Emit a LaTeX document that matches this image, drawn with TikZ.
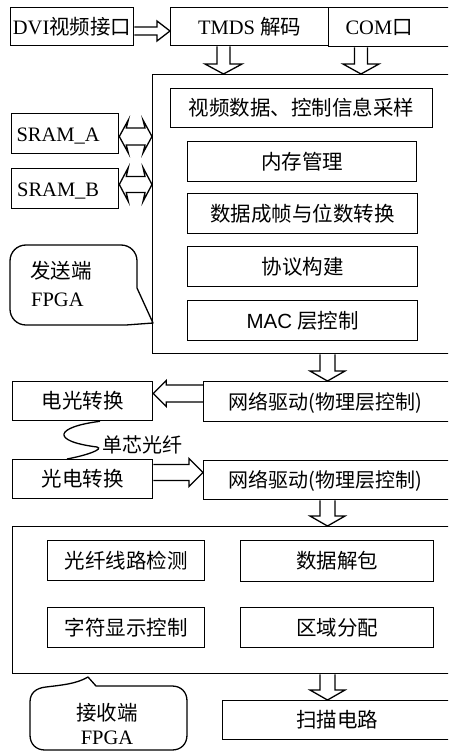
\documentclass[tikz,border=0pt]{standalone}
\usepackage{fontspec}
\setmainfont{Liberation Serif}
\newfontfamily\cjk{Noto Sans CJK SC}
\newfontfamily\sansf{Liberation Sans}
\usetikzlibrary{calc}

\tikzset{
  box/.style={draw, line width=1.3pt, inner sep=0pt, anchor=north west, text height=17pt, text depth=2pt},
  harrow/.style={draw, line width=1.3pt, line join=miter},
  bubble/.style={draw, line width=1.3pt, line join=round},
  fibre/.style={draw, line width=1.3pt},
  txt/.style={inner sep=0pt}
}

\newcommand\bx[6]{\node[box, minimum width={(#4-#2)*1pt}, minimum height={(#5-#3)*1pt}] (#1) at (#2,#3) {#6};}

% downward hollow arrow: x, source, target, shaft half, head half
\newcommand\arrdown[5]{\draw[harrow] let \p1=(#2.south), \p2=(#3.north) in
  (#1pt-#4pt,\y1) -- (#1pt-#4pt,\y2+10pt) -- (#1pt-#5pt,\y2+10pt) -- (#1pt,\y2)
  -- (#1pt+#5pt,\y2+10pt) -- (#1pt+#4pt,\y2+10pt) -- (#1pt+#4pt,\y1);}
% rightward hollow arrow: y, source, target, shaft half, head half, head length
\newcommand\arrright[6]{\draw[harrow] let \p1=(#2.east), \p2=(#3.west) in
  (\x1,-#1pt+#4pt) -- (\x2-#6pt,-#1pt+#4pt) -- (\x2-#6pt,-#1pt+#5pt) -- (\x2,-#1pt)
  -- (\x2-#6pt,-#1pt-#5pt) -- (\x2-#6pt,-#1pt-#4pt) -- (\x1,-#1pt-#4pt);}
% leftward hollow arrow: y, source (right), target (left), shaft half, head half, head length
\newcommand\arrleft[6]{\draw[harrow] let \p1=(#2.west), \p2=(#3.east) in
  (\x1,-#1pt+#4pt) -- (\x2+#6pt,-#1pt+#4pt) -- (\x2+#6pt,-#1pt+#5pt) -- (\x2,-#1pt)
  -- (\x2+#6pt,-#1pt-#5pt) -- (\x2+#6pt,-#1pt-#4pt) -- (\x1,-#1pt-#4pt);}
% two-headed hollow arrow: y, left node, right node, shaft half, head half, head length
\newcommand\arrboth[6]{\draw[harrow] let \p1=(#2.east), \p2=(#3.west) in
  (\x1,-#1pt) -- (\x1+#6pt,-#1pt+#5pt) -- (\x1+#6pt-2pt,-#1pt+#4pt) -- (\x2-#6pt+2pt,-#1pt+#4pt)
  -- (\x2-#6pt,-#1pt+#5pt) -- (\x2,-#1pt) -- (\x2-#6pt,-#1pt-#5pt) -- (\x2-#6pt+2pt,-#1pt-#4pt)
  -- (\x1+#6pt-2pt,-#1pt-#4pt) -- (\x1+#6pt,-#1pt-#5pt) -- cycle;}

\begin{document}
\begin{tikzpicture}[x=1pt, y=-1pt, font=\fontsize{20.5}{24}\selectfont]
\useasboundingbox (0,0) rectangle (448,753);
\clip (0,0) rectangle (448,753);

% ---- sender side ----
\bx{dvi}{10}{7}{133}{45}{DVI{\cjk 视频接口}}
\bx{tmds}{170}{7}{328}{45}{TMDS {\cjk 解码}}
\bx{com}{328}{7}{451}{46}{\hspace*{-22pt}COM{\cjk 口}}
\bx{big}{152}{74}{451}{353}{}
\bx{s1}{170}{88}{432}{127}{\cjk 视频数据、控制信息采样}
\bx{s2}{187}{141}{416}{181}{\cjk 内存管理}
\bx{s3}{187}{193}{417}{233}{\cjk 数据成帧与位数转换}
\bx{s4}{187}{246}{417}{286}{\cjk 协议构建}
\bx{s5}{187}{300}{417}{340}{{\sansf MAC} {\cjk 层控制}}
\bx{srama}{11}{113}{118}{153}{\hspace*{-14pt}SRAM\_A}
\bx{sramb}{11}{168}{118}{208}{\hspace*{-14pt}SRAM\_B}

% ---- link ----
\bx{nd1}{203}{381}{451}{421}{\hspace*{-4pt}\fontsize{20}{24}\selectfont\cjk 网络驱动(物理层控制)}
\bx{eo}{12}{381}{152}{420}{\cjk 电光转换}
\bx{oe}{12}{459}{152}{498}{\cjk 光电转换}
\bx{nd2}{203}{460}{451}{499}{\hspace*{-4pt}\fontsize{20}{24}\selectfont\cjk 网络驱动(物理层控制)}

% ---- receiver side ----
\bx{recv}{12}{526}{451}{673}{}
\bx{r1}{47}{540}{204}{580}{\cjk 光纤线路检测}
\bx{r2}{240}{540}{433}{581}{\cjk 数据解包}
\bx{r3}{47}{607}{204}{647}{\cjk 字符显示控制}
\bx{r4}{240}{607}{433}{647}{\cjk 区域分配}
\bx{scan}{222}{700}{451}{739}{\cjk 扫描电路}

% ---- hollow arrows ----
\arrright{31}{dvi}{tmds}{4}{10}{13}
\arrdown{223.5}{tmds}{big}{6.5}{18.5}
\arrdown{361}{com}{big}{6.5}{18}
\arrboth{136.5}{srama}{big}{8.5}{16.5}{9}
\arrboth{184.5}{sramb}{big}{8}{17}{9}
\arrdown{327.5}{big}{nd1}{7.5}{17.5}
\arrleft{393.5}{nd1}{eo}{8.5}{13}{13}
\arrright{472.5}{oe}{nd2}{8}{14}{14}
\arrdown{327.5}{nd2}{recv}{7.5}{17.5}
\arrdown{327.5}{recv}{scan}{7.5}{17.5}

% ---- single-core fibre ----
\draw[fibre] ($(eo.south west)+(88,0)$) .. controls (55,427) and (50,441) .. (97,447)
  .. controls (104,449) and (88,455) .. ($(oe.north west)+(55,0)$);
\node[txt, anchor=west] (fib) at (102,445) {\fontsize{20}{24}\selectfont\cjk 单芯光纤};

% ---- sender bubble ----
\draw[bubble] (153,323) -- (126,325) -- (26,325) .. controls (17,325) and (10,318) .. (10,309)
  -- (10,261) .. controls (10,252) and (17,245) .. (26,245) -- (121,245)
  .. controls (130,245) and (137,252) .. (137,261) -- (137,288) -- cycle;
\node[txt, anchor=base west] (sendt1) at (30,278) {\cjk 发送端};
\node[txt, anchor=base west] (sendt2) at (31,306) {FPGA};

% ---- receiver bubble ----
\draw[bubble] (88,677) -- (96,686) -- (172,686) .. controls (181,686) and (187,692) .. (187,701)
  -- (187,735) .. controls (187,744) and (181,750) .. (172,750) -- (45,750)
  .. controls (36,750) and (30,744) .. (30,735) -- (30,702)
  .. controls (30,693) and (36,688) .. (46,687) .. controls (62,685) and (76,684) .. cycle;
\node[txt, anchor=base] (recvt1) at (107,720) {\cjk 接收端};
\node[txt, anchor=base] (recvt2) at (107,744) {FPGA};
\end{tikzpicture}
\end{document}
